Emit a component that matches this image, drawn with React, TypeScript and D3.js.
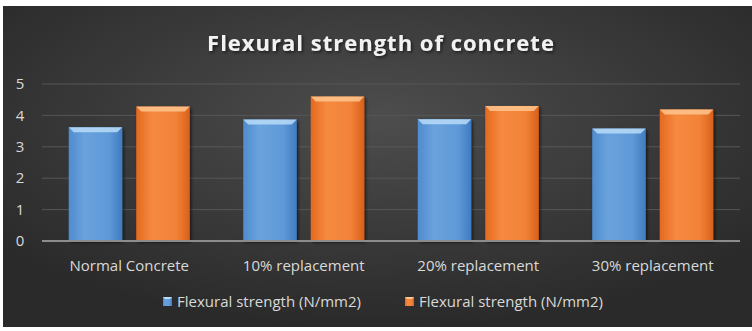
import React from "react";
import * as d3 from "d3";

const categories = ["Normal Concrete", "10% replacement", "20% replacement", "30% replacement"];
const seriesKeys = ["s1", "s2"];
const seriesLabels = ["Flexural strength (N/mm2)", "Flexural strength (N/mm2)"];
const blueValues = [3.62, 3.87, 3.88, 3.58];
const orangeValues = [4.28, 4.6, 4.3, 4.19];
const yTicks = [0, 1, 2, 3, 4, 5];

const W = 752;
const H = 331;
const font = "'Open Sans', 'Noto Sans', sans-serif";

const App = () => {
  const x0 = d3.scaleBand().domain(categories).range([42, 740]).padding(0);
  const x1 = d3
    .scaleBand()
    .domain(seriesKeys)
    .range([0, x0.bandwidth()])
    .paddingInner(0.207)
    .paddingOuter(0.396);
  const y = d3.scaleLinear().domain([0, 5]).range([241, 84]);

  const rows = categories.map((c, i) => ({ c, vals: [blueValues[i], orangeValues[i]] }));
  const grads = ["blueG", "orangeG"];
  const tops = ["#b9dcf8", "#ffc58e"];
  const legendX = [163, 405];

  return (
    <svg
      width={W}
      height={H}
      style={{ position: "absolute", left: 0, top: 0, background: "#fff" }}
    >
      <defs>
        <radialGradient id="bg" cx="50%" cy="35%" r="65%">
          <stop offset="0%" stopColor="#4d4d4d" />
          <stop offset="100%" stopColor="#2a2a2a" />
        </radialGradient>
        <linearGradient id="blueG" x1="0" y1="0" x2="1" y2="0">
          <stop offset="0%" stopColor="#4f8ccf" />
          <stop offset="30%" stopColor="#6aa2dd" />
          <stop offset="75%" stopColor="#6099d8" />
          <stop offset="100%" stopColor="#3f7cc0" />
        </linearGradient>
        <linearGradient id="orangeG" x1="0" y1="0" x2="1" y2="0">
          <stop offset="0%" stopColor="#e5691f" />
          <stop offset="30%" stopColor="#f58a40" />
          <stop offset="75%" stopColor="#f28238" />
          <stop offset="100%" stopColor="#d9601a" />
        </linearGradient>
        <filter id="shadow" x="-20%" y="-20%" width="140%" height="140%">
          <feDropShadow dx="1.5" dy="1.5" stdDeviation="1.5" floodColor="#000" floodOpacity="0.6" />
        </filter>
      </defs>

      <rect x={3} y={6} width={W - 3} height={321} fill="url(#bg)" />

      <text
        x={381}
        y={51}
        textAnchor="middle"
        fill="#f2f2f2"
        fontFamily={font}
        fontWeight="bold"
        fontSize={22}
        letterSpacing={1}
        filter="url(#shadow)"
      >
        Flexural strength of concrete
      </text>

      {yTicks.map((t) => (
        <g key={t}>
          {t > 0 && (
            <line x1={42} x2={740} y1={y(t)} y2={y(t)} stroke="#575757" strokeWidth={1} />
          )}
          <text
            x={20}
            y={y(t)}
            dy="0.35em"
            textAnchor="middle"
            fill="#d9d9d9"
            fontFamily={font}
            fontSize={15}
          >
            {t}
          </text>
        </g>
      ))}

      {rows.map((r) => (
        <g key={r.c} transform={`translate(${x0(r.c)},0)`}>
          {r.vals.map((v, i) => {
            const bx = x1(seriesKeys[i]) as number;
            const bw = x1.bandwidth();
            const top = y(v);
            return (
              <g key={i}>
                <rect
                  x={bx}
                  y={top}
                  width={bw}
                  height={y(0) - top}
                  fill={`url(#${grads[i]})`}
                  filter="url(#shadow)"
                />
                <path
                  d={`M${bx},${top}H${bx + bw}L${bx + bw - 5},${top + 5}H${bx + 5}Z`}
                  fill={tops[i]}
                  opacity={0.85}
                />
              </g>
            );
          })}
          <text
            x={x0.bandwidth() / 2}
            y={266}
            dy="0.35em"
            textAnchor="middle"
            fill="#d9d9d9"
            fontFamily={font}
            fontSize={15}
          >
            {r.c}
          </text>
        </g>
      ))}

      <line x1={42} x2={740} y1={y(0)} y2={y(0)} stroke="#8c8c8c" strokeWidth={2} />

      {seriesLabels.map((s, i) => (
        <g key={i} transform={`translate(${legendX[i]},302)`}>
          <rect x={0} y={-5} width={9} height={9} fill={`url(#${grads[i]})`} />
          <path d="M0,-5H9L7,-3H2Z" fill={tops[i]} />
          <text x={14} y={0} dy="0.35em" fill="#d9d9d9" fontFamily={font} fontSize={15}>
            {s}
          </text>
        </g>
      ))}
    </svg>
  );
};

export default App;
